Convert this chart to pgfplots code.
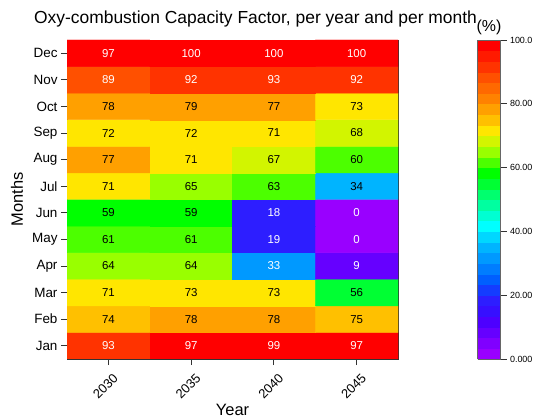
\documentclass[border=0pt]{standalone}
\usepackage{pgfplots}
\usepackage{pgfplotstable}
\pgfplotsset{compat=1.18}
\usepackage{fontspec}
\setmainfont{Liberation Sans}

\pgfplotstableread{
x y v
0 0 93
1 0 97
2 0 99
3 0 97
0 1 74
1 1 78
2 1 78
3 1 75
0 2 71
1 2 73
2 2 73
3 2 56
0 3 64
1 3 64
2 3 33
3 3 9
0 4 61
1 4 61
2 4 19
3 4 0
0 5 59
1 5 59
2 5 18
3 5 0
0 6 71
1 6 65
2 6 63
3 6 34
0 7 77
1 7 71
2 7 67
3 7 60
0 8 72
1 8 72
2 8 71
3 8 68
0 9 78
1 9 79
2 9 77
3 9 73
0 10 89
1 10 92
2 10 93
3 10 92
0 11 97
1 11 100
2 11 100
3 11 100
}\datatable

\pgfplotstableread{
x y v
0 0 93
1 0 97
2 0 99
3 0 97
2 3 33
3 3 9
2 4 19
3 4 0
2 5 18
3 5 0
0 10 89
1 10 92
2 10 93
3 10 92
0 11 97
1 11 100
2 11 100
3 11 100
}\whitetable

\pgfplotstableread{
x y v
0 1 74
1 1 78
2 1 78
3 1 75
0 2 71
1 2 73
2 2 73
3 2 56
0 3 64
1 3 64
0 4 61
1 4 61
0 5 59
1 5 59
0 6 71
1 6 65
2 6 63
3 6 34
0 7 77
1 7 71
2 7 67
3 7 60
0 8 72
1 8 72
2 8 71
3 8 68
0 9 78
1 9 79
2 9 77
3 9 73
}\blacktable

\pgfplotsset{
  colormap={capfac}{
    rgb255(0pt)=(153,0,255)
    rgb255(32.83pt)=(128,0,255)
    rgb255(66.17pt)=(102,0,255)
    rgb255(99.5pt)=(77,0,255)
    rgb255(132.83pt)=(55,15,255)
    rgb255(166.17pt)=(45,30,255)
    rgb255(199.5pt)=(20,60,255)
    rgb255(232.83pt)=(0,95,255)
    rgb255(266.17pt)=(0,125,255)
    rgb255(299.5pt)=(0,153,255)
    rgb255(332.83pt)=(0,180,255)
    rgb255(366.17pt)=(0,215,255)
    rgb255(399.5pt)=(0,255,255)
    rgb255(432.83pt)=(0,255,210)
    rgb255(466.17pt)=(0,255,160)
    rgb255(499.5pt)=(0,255,110)
    rgb255(532.83pt)=(0,255,51)
    rgb255(566.17pt)=(0,255,0)
    rgb255(599.5pt)=(76,255,0)
    rgb255(632.83pt)=(153,255,0)
    rgb255(666.17pt)=(210,245,0)
    rgb255(699.5pt)=(255,230,0)
    rgb255(732.83pt)=(255,192,0)
    rgb255(766.17pt)=(255,160,0)
    rgb255(799.5pt)=(255,130,0)
    rgb255(832.83pt)=(255,105,0)
    rgb255(866.17pt)=(255,80,0)
    rgb255(899.5pt)=(255,51,0)
    rgb255(932.83pt)=(255,26,0)
    rgb255(966.17pt)=(255,0,0)
    rgb255(1000pt)=(255,0,0)
  }
}

\begin{document}
\begin{tikzpicture}
\useasboundingbox (0,0) rectangle (536bp,418bp);
\node[anchor=base, font=\fontsize{17.5}{20}\selectfont] at (255.5bp,394bp) {Oxy-combustion Capacity Factor, per year and per month};
\begin{axis}[
  at={(67bp,59bp)}, anchor=south west,
  scale only axis, width=331bp, height=319bp,
  xmin=-0.5, xmax=3.5, ymin=-0.5, ymax=11.5,
  xtick={0,1,2,3}, xticklabels={2030,2035,2040,2045},
  ytick={0,...,11}, yticklabels={Jan,Feb,Mar,Apr,May,Jun,Jul,Aug,Sep,Oct,Nov,Dec},
  xtick pos=bottom, ytick pos=left, tick align=outside,
  major tick length=6bp,
  axis line style={black!80, line width=0.8pt},
  every tick/.append style={black!80, line width=0.8pt},
  x tick label style={anchor=center, xshift=-3bp, yshift=-21bp, rotate=45, font=\fontsize{13}{15}\selectfont},
  y tick label style={font=\fontsize{13.5}{15}\selectfont},
  xlabel={Year}, ylabel={Months},
  xlabel style={at={(axis description cs:0.5,-0.178)}, anchor=base, font=\fontsize{16.5}{19}\selectfont},
  ylabel style={at={(axis description cs:-0.151,0.5)}, anchor=center, font=\fontsize{16.5}{19}\selectfont},
  colormap name=capfac,
  colormap access=piecewise constant,
  point meta min=0, point meta max=100,
  colorbar,
  colorbar style={
    at={(parent axis.north east)}, anchor=north west, xshift=71bp,
    width=23bp,
    ytick={0,20,40,60,80,100},
    yticklabels={0.000,20.00,40.00,60.00,80.00,100.0},
    yticklabel style={font=\fontsize{9}{10}\selectfont},
    ytick pos=right,
    tick align=outside, major tick length=6bp,
    axis line style={black!60, line width=0.8pt},
    title={(\%)},
    title style={font=\fontsize{16}{18}\selectfont, yshift=-4bp},
  },
]
\addplot[matrix plot*, mesh/cols=4, point meta=explicit] table[x=x, y=y, meta=v] {\datatable};
\addplot[draw=none, mark=none, point meta=explicit symbolic,
  nodes near coords,
  every node near coord/.append style={anchor=center, text=white, font=\fontsize{11.5}{13}\selectfont}]
  table[x=x, y=y, meta=v] {\whitetable};
\addplot[draw=none, mark=none, point meta=explicit symbolic,
  nodes near coords,
  every node near coord/.append style={anchor=center, text=black, font=\fontsize{11.5}{13}\selectfont}]
  table[x=x, y=y, meta=v] {\blacktable};
\end{axis}
\end{tikzpicture}
\end{document}
